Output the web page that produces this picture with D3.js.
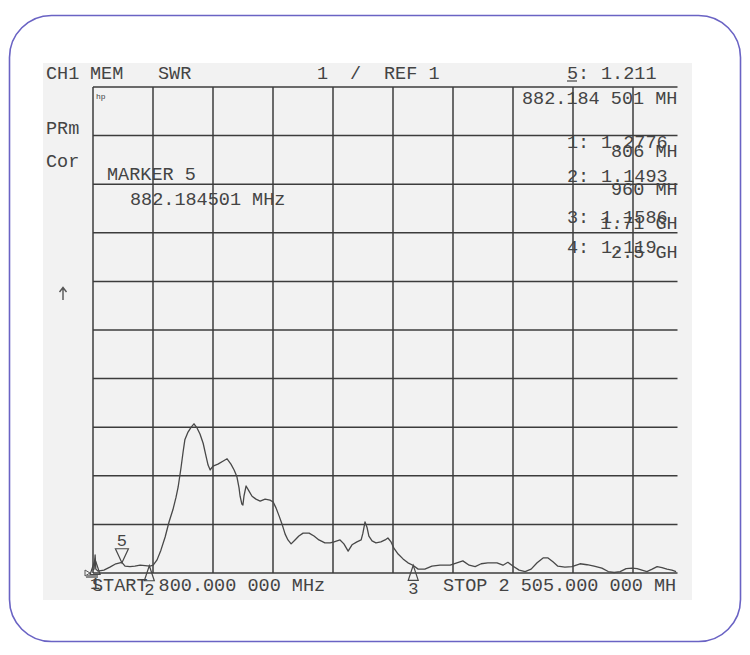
<!DOCTYPE html>
<html>
<head>
<meta charset="utf-8">
<title>SWR sweep</title>
<script src="https://cdnjs.cloudflare.com/ajax/libs/d3/7.8.5/d3.min.js"></script>
<style>
body { margin: 0; background: #fff; }
text { font-family: "Liberation Mono", "DejaVu Sans Mono", monospace; fill: #444; }
</style>
</head>
<body>
<div id="chart"></div>
<script>
// sweep 800 MHz .. 2505 MHz, SWR 1 / div, ref 1
var freqMHz = [800, 803, 806, 808, 814, 831, 848, 865, 882, 891,
  905, 919, 934, 948, 962, 971, 982, 993, 1005, 1016,
  1027, 1036, 1042, 1050, 1056, 1061, 1070, 1079, 1087, 1096,
  1104, 1113, 1121, 1127, 1133, 1141, 1155, 1169, 1181, 1192,
  1201, 1209, 1215, 1218, 1223, 1226, 1229, 1235, 1243, 1252,
  1263, 1275, 1289, 1303, 1312, 1320, 1329, 1337, 1346, 1354,
  1363, 1374, 1385, 1397, 1414, 1428, 1442, 1459, 1474, 1485,
  1502, 1513, 1525, 1536, 1550, 1562, 1567, 1573, 1579, 1584,
  1593, 1604, 1618, 1630, 1638, 1647, 1655, 1667, 1681, 1695,
  1709, 1724, 1743, 1763, 1786, 1815, 1834, 1851, 1869, 1886,
  1903, 1922, 1948, 1965, 1979, 1994, 2011, 2028, 2045, 2062,
  2079, 2093, 2107, 2121, 2141, 2161, 2184, 2204, 2224, 2246,
  2264, 2281, 2298, 2315, 2332, 2346, 2360, 2374, 2389, 2403,
  2417, 2431, 2445, 2457];
var swrVals = [1.06, 1.08, 1.37, 1.08, 1.04, 1.06, 1.12, 1.19, 1.22, 1.14,
  1.13, 1.14, 1.16, 1.15, 1.14, 1.16, 1.27, 1.47, 1.74, 2.05,
  2.30, 2.56, 2.77, 3.16, 3.49, 3.74, 3.90, 4.00, 4.07, 3.98,
  3.86, 3.67, 3.41, 3.22, 3.12, 3.20, 3.24, 3.30, 3.35, 3.24,
  3.12, 2.98, 2.75, 2.58, 2.42, 2.40, 2.58, 2.79, 2.69, 2.58,
  2.52, 2.48, 2.52, 2.50, 2.46, 2.34, 2.17, 2.01, 1.80, 1.68,
  1.60, 1.68, 1.76, 1.82, 1.82, 1.76, 1.68, 1.62, 1.62, 1.64,
  1.68, 1.60, 1.45, 1.58, 1.64, 1.68, 1.82, 2.05, 1.93, 1.76,
  1.66, 1.62, 1.64, 1.68, 1.72, 1.64, 1.51, 1.39, 1.29, 1.21,
  1.16, 1.08, 1.08, 1.14, 1.16, 1.16, 1.21, 1.25, 1.16, 1.13,
  1.19, 1.21, 1.21, 1.16, 1.22, 1.14, 1.06, 1.03, 1.08, 1.21,
  1.31, 1.31, 1.23, 1.14, 1.12, 1.13, 1.19, 1.17, 1.14, 1.10,
  1.03, 1.01, 1.03, 1.09, 1.10, 1.09, 1.06, 1.03, 1.08, 1.13,
  1.11, 1.08, 1.06, 1.03];

// markers: number, frequency, reading
var markerNums = [1, 2, 3, 4, 5];
var markerFreq = [806, 960, 1710, 2500, 882.184501];
var markerSwr = [1.2776, 1.1493, 1.1586, 1.119, 1.211];
var markerFreqText = ["806 MH", "960 MH", "1.71 GH", "2.5 GH"];
var markerSwrText = ["1.2776", "1.1493", "1.1586", "1.119"];

var startStop = [800, 2505];
var swrRange = [1, 11];

var width = 750, height = 655;
var svg = d3.select("#chart").append("svg")
  .attr("width", width)
  .attr("height", height);

// rounded frame and grey scan area
svg.append("rect")
  .attr("x", 9.5).attr("y", 15.5)
  .attr("width", 731).attr("height", 626)
  .attr("rx", 42).attr("ry", 42)
  .style("fill", "#fff")
  .style("stroke", "#6a63c4")
  .style("stroke-width", 1.6);

svg.append("rect")
  .attr("x", 43).attr("y", 63)
  .attr("width", 649).attr("height", 537)
  .style("fill", "#f2f2f2");

var x = d3.scaleLinear().domain(startStop).range([93, 693]);
var y = d3.scaleLinear().domain(swrRange).range([573, 87]);

svg.append("clipPath").attr("id", "crop")
  .append("rect").attr("x", 0).attr("y", 0).attr("width", 677.5).attr("height", 655);

var plot = svg.append("g").attr("clip-path", "url(#crop)");

// graticule, 10 x 10
var xDiv = d3.range(11).map(function(i) { return startStop[0] + i * (startStop[1] - startStop[0]) / 10; });
var yDiv = d3.range(swrRange[0], swrRange[1] + 1);

plot.selectAll(".vgrid").data(xDiv).enter().append("line")
  .attr("class", "vgrid")
  .attr("x1", function(d) { return x(d); }).attr("x2", function(d) { return x(d); })
  .attr("y1", y(swrRange[1])).attr("y2", y(swrRange[0]))
  .style("stroke", "#3c3c3c").style("stroke-width", 1.5);

plot.selectAll(".hgrid").data(yDiv).enter().append("line")
  .attr("class", "hgrid")
  .attr("x1", x(startStop[0])).attr("x2", x(startStop[1]))
  .attr("y1", function(d) { return y(d); }).attr("y2", function(d) { return y(d); })
  .style("stroke", "#3c3c3c").style("stroke-width", 1.5);

// the trace
var pts = freqMHz.map(function(f, i) { return [f, swrVals[i]]; });
var line = d3.line()
  .x(function(d) { return x(d[0]); })
  .y(function(d) { return y(d[1]); });

plot.append("path")
  .datum(pts)
  .attr("d", line)
  .style("fill", "none")
  .style("stroke", "#484848")
  .style("stroke-width", 1.3)
  .style("stroke-linejoin", "round");

// marker triangles: 5 is active (above the trace), others below
markerNums.forEach(function(n, i) {
  var mx = x(markerFreq[i]), my = y(markerSwr[i]);
  var tri;
  if (n == 5) {
    tri = "M" + mx + "," + my + " L" + (mx - 6.5) + "," + (my - 14) + " L" + (mx + 6.5) + "," + (my - 14) + " Z";
    plot.append("text").attr("x", mx).attr("y", my - 17)
      .attr("text-anchor", "middle").style("font-size", "17px").text(n);
  } else {
    tri = "M" + mx + "," + my + " L" + (mx - 5) + "," + (my + 15) + " L" + (mx + 5) + "," + (my + 15) + " Z";
    plot.append("text").attr("x", mx).attr("y", my + 29)
      .attr("text-anchor", "middle").style("font-size", "17px").text(n);
  }
  plot.append("path").attr("d", tri)
    .style("fill", "none").style("stroke", "#484848").style("stroke-width", 1.2);
});

// reference position mark at left of bottom line
svg.append("path")
  .attr("d", "M85," + (y(1) - 3) + " L90," + y(1) + " L85," + (y(1) + 3) + " Z")
  .style("fill", "none").style("stroke", "#555").style("stroke-width", 1);
svg.append("rect").attr("x", 86).attr("y", y(1) + 2).attr("width", 12).attr("height", 3)
  .style("fill", "#888");

// off-scale arrow at left
svg.append("path")
  .attr("d", "M63,300 L63,288 M59.5,292 L63,287.5 L66.5,292")
  .style("fill", "none").style("stroke", "#555").style("stroke-width", 1.4);

// annotation text
function label(tx, ty, s, size) {
  return svg.append("text").attr("x", tx).attr("y", ty)
    .style("font-size", (size || 18.5) + "px")
    .attr("xml:space", "preserve")
    .text(s);
}

label(46, 79, "CH1");
label(90, 79, "MEM");
label(158, 79, "SWR");
label(317, 79, "1");
label(350, 79, "/");
label(384, 79, "REF 1");
label(567, 79, "5:");
svg.append("line").attr("x1", 567).attr("x2", 577).attr("y1", 81).attr("y2", 81)
  .style("stroke", "#444").style("stroke-width", 1.2);
label(601, 79, "1.211");

label(96, 99, "hp", 8);
label(522, 104, "882.184 501 MH");
label(46, 134, "PRm");
label(46, 167, "Cor");
label(107, 180, "MARKER 5");
label(130, 205, "882.184501 MHz");

var listY = [148, 182, 223, 253];
var freqY = [157, 195, 229, 258];
var freqX = [611, 611, 600, 611];
markerSwrText.forEach(function(s, i) {
  label(567, listY[i], markerNums[i] + ":");
  label(601, listY[i], s);
  label(freqX[i], freqY[i], markerFreqText[i]);
});

label(92, 591, "START 800.000 000 MHz");
label(443, 591, "STOP 2 505.000 000 MH");
</script>
</body>
</html>
